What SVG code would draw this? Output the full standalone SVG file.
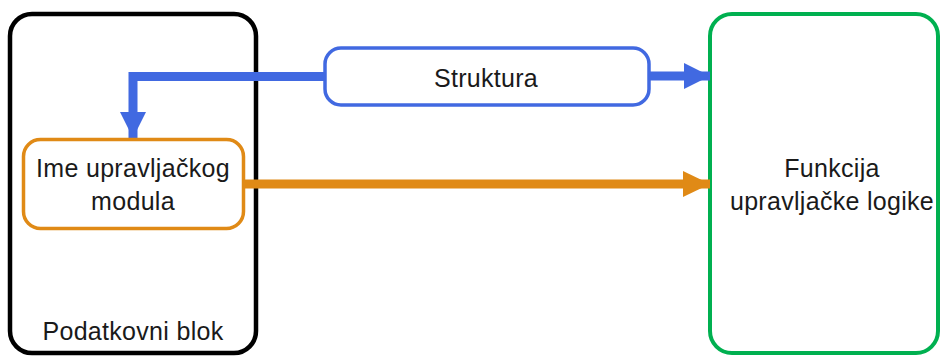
<svg xmlns="http://www.w3.org/2000/svg" width="946" height="356" viewBox="0 0 946 356">
<defs>
<style>
text{font-family:"Liberation Sans",Arial,sans-serif;font-size:25px;letter-spacing:0.3px;fill:#1a1a1a;text-anchor:middle}
</style>
<marker id="ab" markerUnits="userSpaceOnUse" markerWidth="28" markerHeight="28" refX="26" refY="13" orient="auto" viewBox="0 0 28 26"><path d="M0,0 L26,13 L0,26 Z" fill="#4169E1"/></marker>
<marker id="ao" markerUnits="userSpaceOnUse" markerWidth="28" markerHeight="28" refX="27" refY="13" orient="auto" viewBox="0 0 28 26"><path d="M0,0 L27,13 L0,26 Z" fill="#E08A16"/></marker>
</defs>
<rect width="946" height="356" fill="#fff"/>
<g id="podatkovni-blok">
<rect x="10" y="14" width="246" height="339" rx="22" fill="#fff" stroke="#000" stroke-width="4.5"/>
<text x="133" y="340">Podatkovni blok</text>
</g>
<g id="funkcija">
<rect x="710" y="14" width="228" height="339" rx="22" fill="#fff" stroke="#00B050" stroke-width="4"/>
<text x="832" y="177">Funkcija</text>
<text x="832" y="210">upravljačke logike</text>
</g>
<g id="connectors" fill="none" stroke-width="9">
<path d="M325,76.5 H133 V138" stroke="#4169E1" marker-end="url(#ab)"/>
<path d="M649,76 H710" stroke="#4169E1" marker-end="url(#ab)"/>
<path d="M243,184 H710" stroke="#E08A16" marker-end="url(#ao)"/>
</g>
<g id="struktura">
<rect x="325" y="48" width="324" height="57" rx="16" fill="#fff" stroke="#4169E1" stroke-width="3.5"/>
<text x="486" y="87">Struktura</text>
</g>
<g id="ime-modula">
<rect x="23.5" y="139.5" width="220" height="89" rx="17" fill="#fff" stroke="#E08A16" stroke-width="3.5"/>
<text x="133" y="177">Ime upravljačkog</text>
<text x="133" y="210">modula</text>
</g>
</svg>
